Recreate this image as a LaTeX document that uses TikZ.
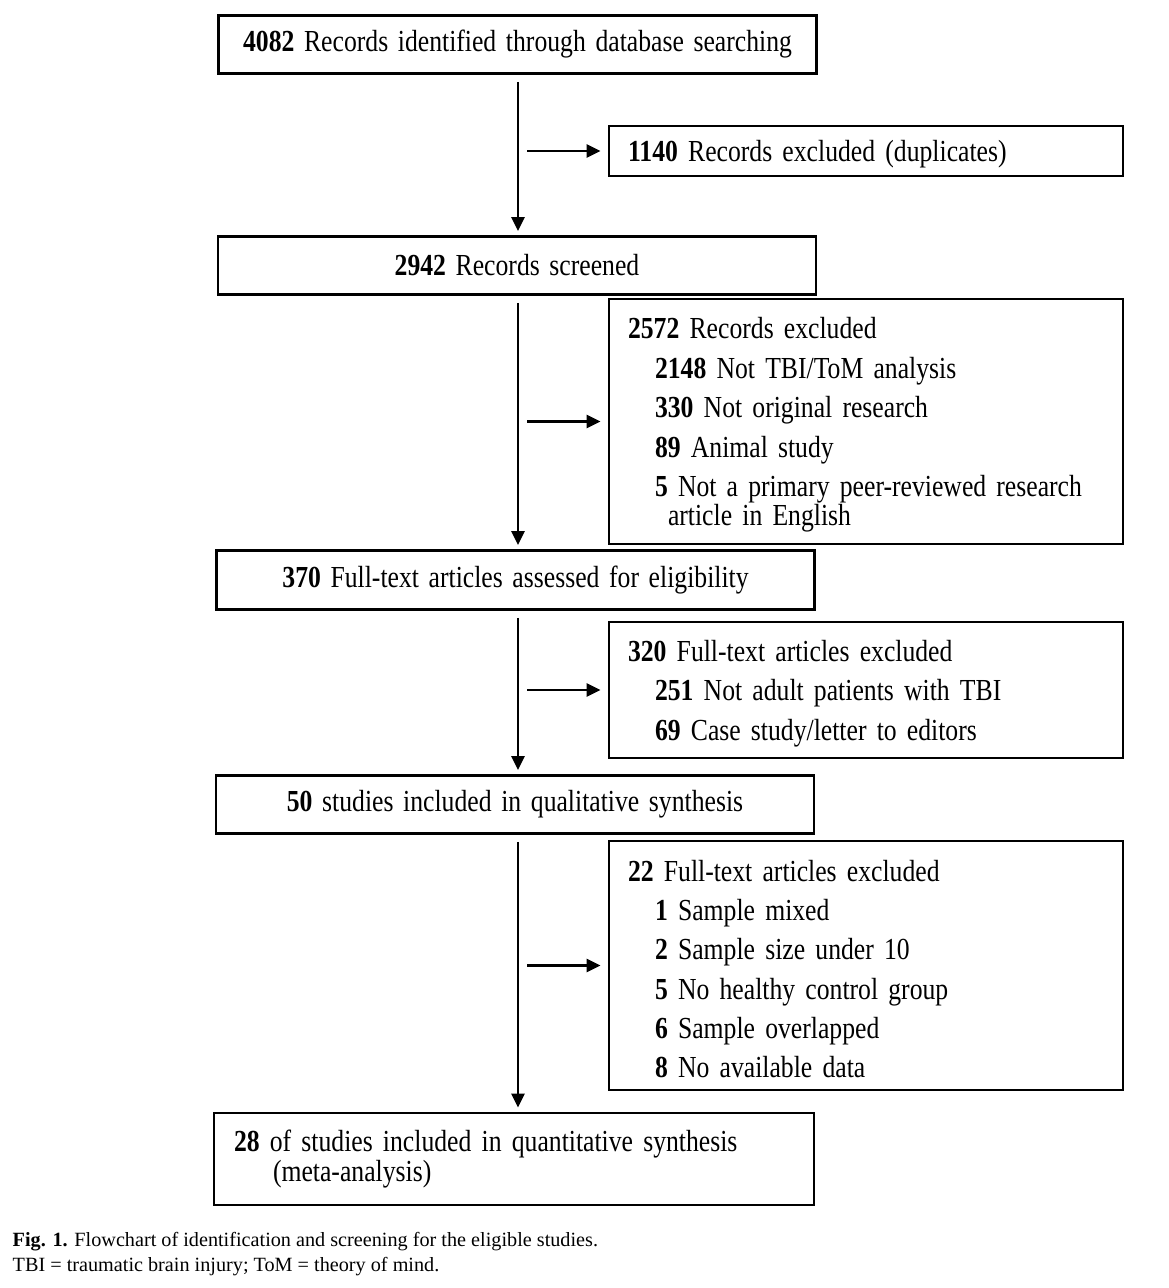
\documentclass[tikz,border=0pt]{standalone}
\usepackage{fontspec}
\setmainfont[FakeStretch=0.84,WordSpace=1.5]{Liberation Serif}
\newfontfamily\capfont{Liberation Serif}
\usetikzlibrary{arrows.meta}
\newcommand{\excl}[2]{\hspace*{0.27cm}\textbf{#1} #2}
\tikzset{
    mainbox/.style={draw, line width=0.8pt, minimum width=5.98cm, minimum height=0.58cm, inner sep=0pt},
    exclbox/.style={draw, line width=0.8pt, text width=4.76cm, inner xsep=0.19cm, inner ysep=0pt, align=left,
        execute at begin node={\rule{0pt}{8pt}}},
    flow/.style={-{Triangle[length=0.14cm,width=0.13cm]}, line width=0.8pt}
}
\begin{document}
\begin{tikzpicture}[font=\fontsize{8.7}{8.3}\selectfont]
    \useasboundingbox (0,0) rectangle (11.68,-12.88);
    % Main column
    \node[mainbox] (search) at (5.175,-0.445) {\textbf{4082} Records identified through database searching};
    \node[mainbox] (screen) at (5.17,-2.655) {\textbf{2942} Records screened};
    \node[mainbox, minimum height=0.59cm] (elig) at (5.155,-5.80) {\textbf{370} Full-text articles assessed for eligibility};
    \node[mainbox] (qual) at (5.15,-8.045) {\textbf{50} studies included in qualitative synthesis};
    \node[mainbox, minimum width=6cm, minimum height=0.92cm, text width=5.6cm, inner xsep=0.2cm, align=left] (quant) at (5.14,-11.59)
        {\textbf{28} of studies included in quantitative synthesis\\\hspace*{0.39cm}(meta-analysis)};
    % Exclusion boxes
    \node[exclbox, minimum height=0.5cm] (dup) at (8.66,-1.51) {\textbf{1140} Records excluded (duplicates)};
    \node[exclbox, minimum height=2.45cm] (ex1) at (8.66,-4.215) {\textbf{2572} Records excluded\\[2.9pt]
        \excl{2148}{Not TBI/ToM analysis}\\[2.9pt]
        \excl{330}{Not original research}\\[2.9pt]
        \excl{89}{Animal study}\\[2.9pt]
        \excl{5}{Not a primary peer-reviewed research}\\
        \hspace*{0.4cm}article in English};
    \node[exclbox, minimum height=1.36cm] (ex2) at (8.66,-6.90) {\textbf{320} Full-text articles excluded\\[2.9pt]
        \excl{251}{Not adult patients with TBI}\\[2.9pt]
        \excl{69}{Case study/letter to editors}};
    \node[exclbox, minimum height=2.49cm] (ex3) at (8.66,-9.655) {\textbf{22} Full-text articles excluded\\[2.9pt]
        \excl{1}{Sample mixed}\\[2.9pt]
        \excl{2}{Sample size under 10}\\[2.9pt]
        \excl{5}{No healthy control group}\\[2.9pt]
        \excl{6}{Sample overlapped}\\[2.9pt]
        \excl{8}{No available data}};
    % Arrows
    \coordinate (spine) at (5.18,0);
    \coordinate (branch) at (5.27,0);
    \foreach \a/\b in {search/screen, screen/elig, elig/qual, qual/quant}
        \draw[flow, shorten <=0.07cm, shorten >=0.04cm] (\a.south -| spine) -- (\b.north -| spine);
    \foreach \b in {dup, ex1, ex2, ex3}
        \draw[flow, shorten >=0.07cm] (branch |- \b.west) -- (\b.west);
    % Caption
    \node[anchor=base west, inner sep=0pt, font=\capfont\fontsize{5.75}{6}\selectfont] (cap1) at (0.12,-12.46)
        {\textbf{Fig. 1.} Flowchart of identification and screening for the eligible studies.};
    \node[anchor=base west, inner sep=0pt, font=\capfont\fontsize{5.75}{6}\selectfont] (cap2) at (0.12,-12.71)
        {TBI = traumatic brain injury; ToM = theory of mind.};
\end{tikzpicture}
\end{document}
